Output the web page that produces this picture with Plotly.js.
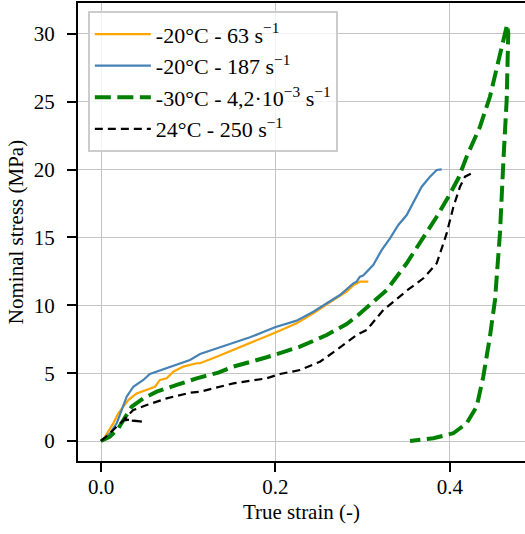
<!DOCTYPE html>
<html>
<head>
<meta charset="utf-8">
<script src="https://cdn.plot.ly/plotly-3.0.1.min.js"></script>
<style>html,body{margin:0;padding:0;background:#fff}</style>
</head>
<body>
<div id="chart" style="width:525px;height:534px"></div>
<script>
// -20°C - 63 s^-1
const strain63 = [0, 0.0046, 0.0141, 0.0198, 0.0256, 0.0313, 0.0409, 0.0524, 0.0619, 0.0676, 0.0753, 0.0829, 0.0943, 0.1097, 0.1135, 0.1326, 0.1516, 0.1708, 0.1994, 0.2243, 0.2434, 0.2663, 0.2816, 0.2896, 0.2968, 0.3064];
const stress63 = [0, 0.32, 1.3, 2.04, 2.53, 3.02, 3.51, 3.76, 4.0, 4.5, 4.62, 5.11, 5.48, 5.73, 5.73, 6.21, 6.71, 7.2, 7.98, 8.67, 9.41, 10.39, 11.0, 11.5, 11.74, 11.74];

// -20°C - 187 s^-1
const strain187 = [0, 0.0103, 0.018, 0.0237, 0.0294, 0.037, 0.0485, 0.056, 0.0753, 0.102, 0.1135, 0.1345, 0.1516, 0.1708, 0.1994, 0.2243, 0.2434, 0.2587, 0.2739, 0.2892, 0.293, 0.2968, 0.3005, 0.312, 0.3217, 0.3312, 0.3408, 0.3504, 0.3599, 0.3676, 0.3771, 0.3848, 0.3905];
const stress187 = [0, 0.57, 1.3, 2.28, 3.27, 4.0, 4.5, 4.94, 5.36, 5.97, 6.41, 6.85, 7.2, 7.64, 8.38, 8.87, 9.53, 10.15, 10.76, 11.62, 11.74, 12.11, 12.2, 12.97, 14.07, 14.94, 15.92, 16.65, 17.76, 18.74, 19.48, 19.97, 20.02];

// -30°C - 4,2e-3 s^-1
const strainQS = [0, 0.0103, 0.0198, 0.0275, 0.0352, 0.0485, 0.0638, 0.0868, 0.1097, 0.1345, 0.1516, 0.1899, 0.2281, 0.2587, 0.2816, 0.2949, 0.3275, 0.3504, 0.3695, 0.3848, 0.3982, 0.4096, 0.4191, 0.4344, 0.4458, 0.4573, 0.463, 0.4655, 0.4668, 0.465, 0.4615, 0.4573, 0.4516, 0.4458, 0.4382, 0.4306, 0.4191, 0.4038, 0.3809, 0.3542];
const stressQS = [0, 0.32, 0.93, 1.79, 2.53, 3.14, 3.64, 4.13, 4.62, 5.04, 5.48, 6.17, 6.95, 7.81, 8.62, 9.29, 11.13, 13.1, 14.94, 16.53, 18.0, 19.36, 20.95, 23.16, 25.37, 28.32, 30.04, 30.7, 30.04, 25.13, 21.0, 15.3, 10.39, 7.69, 4.74, 2.53, 1.3, 0.57, 0.2, 0];

// 24°C - 250 s^-1
const strain24 = [0, 0.0103, 0.0198, 0.0265, 0.0485, 0.0265, 0.037, 0.0524, 0.0753, 0.102, 0.1135, 0.1345, 0.1516, 0.1899, 0.2052, 0.2281, 0.251, 0.2701, 0.293, 0.3045, 0.3236, 0.3515, 0.3695, 0.3848, 0.39, 0.3916, 0.3962, 0.404, 0.4115, 0.4172, 0.4267];
const stress24 = [0, 0.57, 1.18, 1.55, 1.42, 1.6, 2.28, 2.65, 3.14, 3.56, 3.63, 3.96, 4.25, 4.62, 4.94, 5.23, 5.84, 6.71, 7.81, 8.18, 9.65, 11.13, 11.99, 13.1, 14.0, 14.4, 15.3, 17.27, 18.74, 19.48, 19.78];

const seriesNames = ['-20°C - 63 s<sup>−1</sup>', '-20°C - 187 s<sup>−1</sup>', '-30°C - 4,2·10<sup>−3</sup> s<sup>−1</sup>', '24°C - 250 s<sup>−1</sup>'];

const FONT = "'Liberation Serif', 'DejaVu Serif', serif";

const traces = [
  {x: strain63, y: stress63, name: seriesNames[0], legendgroup: 'a', mode: 'lines', line: {color: '#FFA500', width: 2.2}},
  {x: strain187, y: stress187, name: seriesNames[1], legendgroup: 'b', mode: 'lines', line: {color: '#4682B4', width: 2.2}},
  {x: strainQS, y: stressQS, name: seriesNames[2], legendgroup: 'c', mode: 'lines', line: {color: '#008000', width: 4, dash: '16px,6.5px'}},
  {x: strain24, y: stress24, name: seriesNames[3], legendgroup: 'd', mode: 'lines', line: {color: '#000000', width: 2.2, dash: '8px,5px'}}
];

const layout = {
  width: 525, height: 534,
  margin: {l: 78, r: 0, t: 3, b: 73},
  paper_bgcolor: '#ffffff', plot_bgcolor: '#ffffff',
  font: {family: FONT, size: 21, color: '#000'},
  showlegend: true,
  legend: {x: 0.022, y: 0.982, xanchor: 'left', yanchor: 'top',
    bgcolor: 'rgba(255,255,255,0.8)', bordercolor: '#cccccc', borderwidth: 2,
    itemwidth: 56, tracegroupgap: 0,
    font: {family: FONT, size: 22, color: '#000'}},
  xaxis: {
    range: [-0.02636, 0.486], tick0: 0, dtick: 0.2, tickformat: '.1f',
    showgrid: true, gridcolor: '#c4c4c4', gridwidth: 1, zeroline: false,
    showline: true, linecolor: '#000', linewidth: 2, mirror: true,
    ticks: 'outside', ticklen: 9, tickwidth: 2, tickcolor: '#000',
    ticklabelstandoff: -3,
    tickfont: {family: FONT, size: 21, color: '#000'},
    title: {text: 'True strain (-)', font: {family: FONT, size: 21, color: '#000'}, standoff: 6}
  },
  yaxis: {
    range: [-1.474, 32.28], tick0: 0, dtick: 5,
    showgrid: true, gridcolor: '#c4c4c4', gridwidth: 1, zeroline: false,
    showline: true, linecolor: '#000', linewidth: 2, mirror: false,
    ticks: 'outside', ticklen: 9, tickwidth: 2, tickcolor: '#000',
    ticklabelstandoff: 8,
    tickfont: {family: FONT, size: 21, color: '#000'},
    title: {text: 'Nominal stress (MPa)', font: {family: FONT, size: 21, color: '#000'}, standoff: 4}
  }
};

Plotly.newPlot('chart', traces, layout, {displayModeBar: false, staticPlot: true});
</script>
</body>
</html>
